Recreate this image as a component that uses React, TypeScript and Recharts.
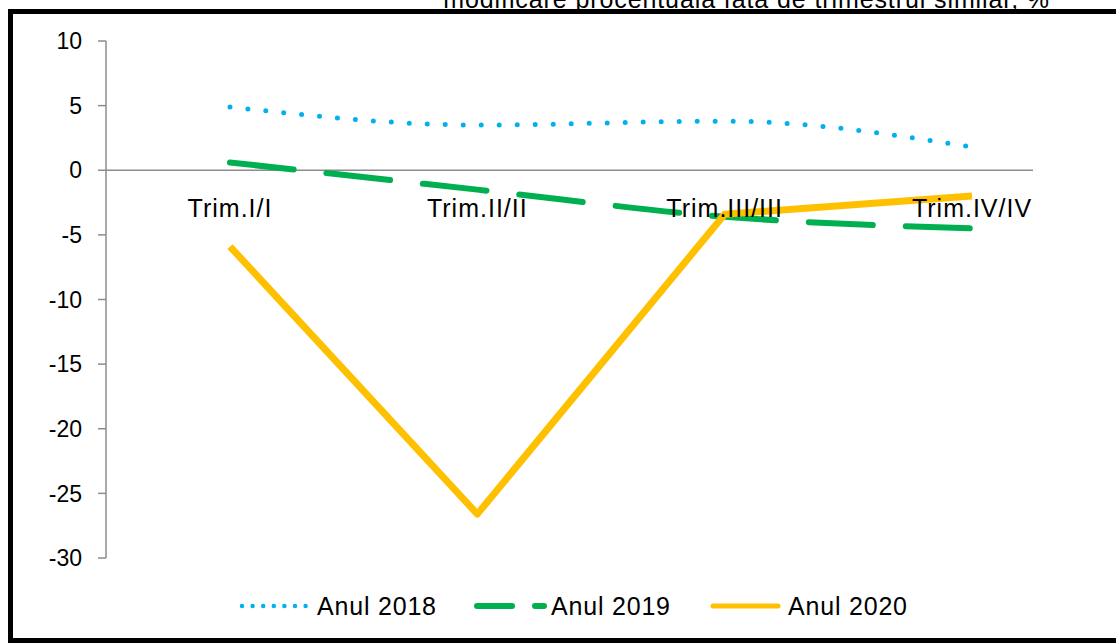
import React from "react";
import {
  LineChart,
  Line,
  XAxis,
  YAxis,
  ReferenceLine,
  Legend,
} from "recharts";

// quarters and yearly growth series (% vs same quarter of previous year)
const categories = ["Trim.I/I", "Trim.II/II", "Trim.III/III", "Trim.IV/IV"];
const anul2018 = [4.9, 3.5, 3.8, 1.8];
const anul2019 = [0.6, -1.5, -3.6, -4.5];
const anul2020 = [-5.9, -26.6, -3.4, -2.0];
const yTicks = [-30, -25, -20, -15, -10, -5, 0, 5, 10];

const data = categories.map((name, i) => ({
  name,
  a2018: anul2018[i],
  a2019: anul2019[i],
  a2020: anul2020[i],
}));

const W = 1116;
const H = 643;
const MARGIN = { top: 41, right: 83, left: 0, bottom: 22 };
const PLOT_H = 517;
const ZERO_Y = MARGIN.top + (PLOT_H * 10) / 40;
const FONT = "'Liberation Sans', Arial, sans-serif";

const AXIS_GREY = "#8c8c8c";
const BLUE = "#00B0F0";
const GREEN = "#00B050";
const ORANGE = "#FFC000";

function CategoryTick(props: any) {
  const { x, payload } = props;
  return (
    <text
      x={x}
      y={ZERO_Y + 47}
      textAnchor="middle"
      fontSize={25}
      fontFamily={FONT}
      letterSpacing={1}
      fill="#000"
    >
      {payload.value}
    </text>
  );
}

function LegendContent() {
  const text: React.CSSProperties = {
    fontSize: 25,
    fontFamily: FONT,
    color: "#000",
    lineHeight: "30px",
    letterSpacing: 0.8,
    whiteSpace: "nowrap",
  };
  return (
    <div style={{ position: "relative", height: 30 }}>
      <div style={{ position: "absolute", left: 238, top: 0, display: "flex", alignItems: "center" }}>
        <svg width={72} height={30}>
          <line x1={4} y1={15} x2={68} y2={15} stroke={BLUE} strokeWidth={4.5}
            strokeDasharray="0 10.6" strokeLinecap="round" />
        </svg>
        <span style={{ ...text, marginLeft: 7 }}>Anul 2018</span>
      </div>
      <div style={{ position: "absolute", left: 474, top: 0, display: "flex", alignItems: "center" }}>
        <svg width={73} height={30}>
          <line x1={3} y1={15} x2={70} y2={15} stroke={GREEN} strokeWidth={6}
            strokeDasharray="35 23" strokeLinecap="round" />
        </svg>
        <span style={{ ...text, marginLeft: 4 }}>Anul 2019</span>
      </div>
      <div style={{ position: "absolute", left: 710, top: 0, display: "flex", alignItems: "center" }}>
        <svg width={71} height={30}>
          <line x1={3} y1={15} x2={68} y2={15} stroke={ORANGE} strokeWidth={5}
            strokeLinecap="round" />
        </svg>
        <span style={{ ...text, marginLeft: 7 }}>Anul 2020</span>
      </div>
    </div>
  );
}

export default function App() {
  return (
    <div style={{ position: "absolute", left: 0, top: 0, width: W, height: H, overflow: "hidden", background: "#fff" }}>
      {/* title, cut off by the top of the picture as in the source */}
      <div
        style={{
          position: "absolute",
          right: W - 1050,
          top: -13,
          fontSize: 25,
          lineHeight: "25px",
          fontFamily: FONT,
          letterSpacing: 0.9,
          color: "#000",
          whiteSpace: "nowrap",
        }}
      >
        modificare procentuală față de trimestrul similar, %
      </div>
      {/* frame */}
      <div
        style={{
          position: "absolute",
          left: 8,
          top: 9,
          width: 1200,
          height: H - 9,
          boxSizing: "border-box",
          border: "5px solid #000",
          background: "#fff",
        }}
      />
      <div style={{ position: "absolute", left: 0, top: 0 }}>
        <LineChart width={W} height={H} data={data} margin={MARGIN}>
          <YAxis
            type="number"
            domain={[-30, 10]}
            ticks={yTicks}
            interval={0}
            width={106}
            axisLine={{ stroke: AXIS_GREY, strokeWidth: 1.5 }}
            tickLine={{ stroke: AXIS_GREY, strokeWidth: 1.5 }}
            tickSize={8}
            tickMargin={16}
            tick={{ fontSize: 23, fontFamily: FONT, fill: "#000" }}
          />
          <ReferenceLine y={0} stroke={AXIS_GREY} strokeWidth={1.5} />
          <Line
            dataKey="a2018"
            type="monotone"
            stroke={BLUE}
            strokeWidth={5}
            strokeDasharray="0 18"
            strokeLinecap="round"
            dot={false}
            activeDot={false}
            isAnimationActive={false}
          />
          <Line
            dataKey="a2019"
            type="monotone"
            stroke={GREEN}
            strokeWidth={6}
            strokeDasharray="64 33"
            strokeLinecap="round"
            dot={false}
            activeDot={false}
            isAnimationActive={false}
          />
          <Line
            dataKey="a2020"
            type="linear"
            stroke={ORANGE}
            strokeWidth={7}
            strokeLinejoin="round"
            dot={false}
            activeDot={false}
            isAnimationActive={false}
          />
          <XAxis
            dataKey="name"
            type="category"
            height={33}
            padding={{ left: 124, right: 61 }}
            axisLine={false}
            tickLine={false}
            interval={0}
            tick={<CategoryTick />}
          />
          <Legend
            verticalAlign="bottom"
            wrapperStyle={{ left: 0, width: W }}
            content={<LegendContent />}
          />
        </LineChart>
      </div>
    </div>
  );
}
